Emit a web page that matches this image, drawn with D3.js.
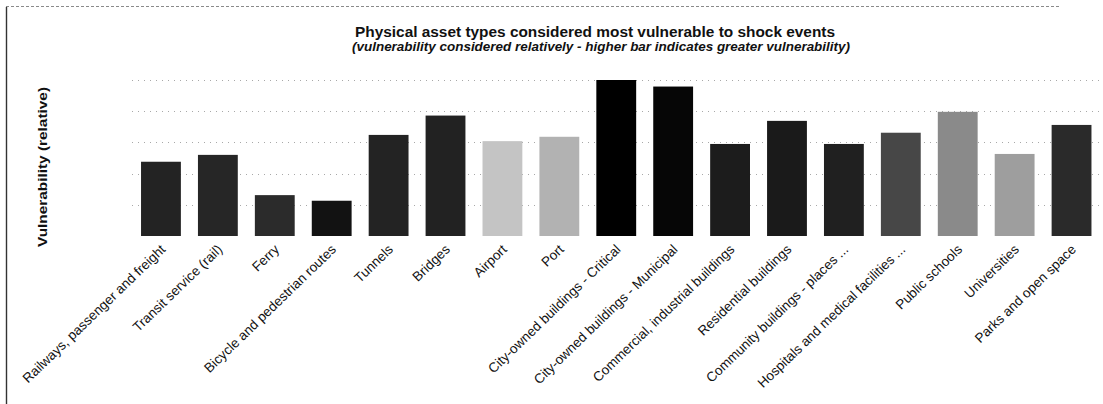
<!DOCTYPE html>
<html>
<head>
<meta charset="utf-8">
<script src="https://cdn.jsdelivr.net/npm/d3@7"></script>
<style>
  html, body { margin: 0; padding: 0; background: #fff; }
  svg { display: block; font-family: "Liberation Sans", Arial, sans-serif; }
</style>
</head>
<body>
<svg id="chart" width="1103" height="404"></svg>
<script>
const categories = [
  "Railways, passenger and freight",
  "Transit service (rail)",
  "Ferry",
  "Bicycle and pedestrian routes",
  "Tunnels",
  "Bridges",
  "Airport",
  "Port",
  "City-owned buildings - Critical",
  "City-owned buildings - Municipal",
  "Commercial, industrial buildings",
  "Residential buildings",
  "Community buildings - places ...",
  "Hospitals and medical facilities ...",
  "Public schools",
  "Universities",
  "Parks and open space"
];
const values = [2.38, 2.60, 1.31, 1.13, 3.24, 3.86, 3.04, 3.18, 5.0, 4.79, 2.95, 3.69, 2.95, 3.31, 3.98, 2.63, 3.56];
const barShades = ["#232323", "#262626", "#2b2b2b", "#121212", "#232323", "#222222", "#c4c4c4", "#b2b2b2", "#000000", "#060606", "#1c1c1c", "#1a1a1a", "#202020", "#474747", "#8a8a8a", "#9e9e9e", "#2a2a2a"];
const yTicks = [0, 1, 2, 3, 4, 5];
const titleText = "Physical asset types considered most vulnerable to shock events";
const subtitleText = "(vulnerability considered relatively - higher bar indicates greater vulnerability)";
const yTitle = "Vulnerability (relative)";

const svg = d3.select("#chart");

// frame
svg.append("line").attr("x1", 6).attr("x2", 1060).attr("y1", 6.5).attr("y2", 6.5)
  .attr("stroke", "#8a8a8a").attr("stroke-width", 1).attr("stroke-dasharray", "3,2");
svg.append("line").attr("x1", 6.5).attr("x2", 6.5).attr("y1", 7).attr("y2", 404)
  .attr("stroke", "#333").attr("stroke-width", 1.4);

const x = d3.scaleBand().domain(categories).range([132.5, 1100]).paddingInner(0.3).paddingOuter(0.15);
const y = d3.scaleLinear().domain([0, 5]).range([236, 80]);

// gridlines
svg.append("g").selectAll("line").data(yTicks.filter(d => d > 0)).join("line")
  .attr("x1", 132).attr("x2", 1100)
  .attr("y1", d => Math.round(y(d)) + 0.5).attr("y2", d => Math.round(y(d)) + 0.5)
  .attr("stroke", "#a8a8a8").attr("stroke-width", 1).attr("stroke-dasharray", "1,5");

// bars
svg.append("g").selectAll("rect").data(values).join("rect")
  .attr("x", (d, i) => x(categories[i]))
  .attr("width", x.bandwidth())
  .attr("y", d => y(d))
  .attr("height", d => y(0) - y(d))
  .attr("fill", (d, i) => barShades[i]);

// x labels
svg.append("g").selectAll("text").data(categories).join("text")
  .attr("transform", d => `translate(${x(d) + x.bandwidth() / 2 + 2},${y(0) + 11}) rotate(-44)`)
  .attr("text-anchor", "end")
  .attr("dy", "0.35em")
  .attr("font-size", 13.5)
  .attr("fill", "#111")
  .text(d => d);

// titles
svg.append("text").attr("x", 595).attr("y", 37).attr("text-anchor", "middle")
  .attr("font-size", 14).attr("font-weight", "bold").attr("fill", "#111")
  .attr("textLength", 480).attr("lengthAdjust", "spacingAndGlyphs")
  .text(titleText);
svg.append("text").attr("x", 601).attr("y", 51).attr("text-anchor", "middle")
  .attr("font-size", 13).attr("font-weight", "bold").attr("font-style", "italic").attr("fill", "#111")
  .attr("textLength", 498).attr("lengthAdjust", "spacingAndGlyphs")
  .text(subtitleText);

// y title
svg.append("text").attr("transform", "translate(47,167) rotate(-90)")
  .attr("text-anchor", "middle").attr("font-size", 13).attr("font-weight", "bold").attr("fill", "#111")
  .attr("textLength", 160).attr("lengthAdjust", "spacingAndGlyphs")
  .text(yTitle);
</script>
</body>
</html>
